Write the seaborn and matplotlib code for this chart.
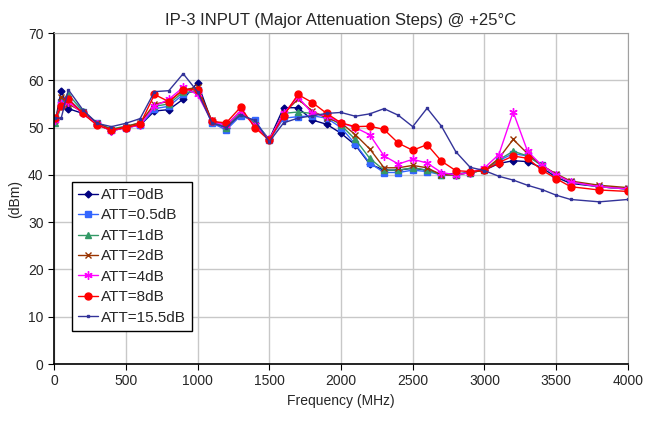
import seaborn as sns
import matplotlib.pyplot as plt
import numpy as np

sns.set_style('whitegrid')
plt.rcParams['font.family'] = ['Liberation Sans', 'DejaVu Sans']

freq = [10, 50, 100, 200, 300, 400, 500, 600, 700, 800, 900, 1000, 1100, 1200,
        1300, 1400, 1500, 1600, 1700, 1800, 1900, 2000, 2100, 2200, 2300, 2400,
        2500, 2600, 2700, 2800, 2900, 3000, 3100, 3200, 3300, 3400, 3500, 3600,
        3800, 4000]

att_0 = [51.5, 57.8, 54.0, 53.0, 50.7, 49.3, 50.0, 50.5, 53.5, 53.8, 56.0, 59.5,
         51.2, 50.0, 53.0, 51.0, 47.5, 54.2, 54.2, 51.6, 50.7, 48.8, 46.3, 42.3,
         41.0, 41.0, 41.4, 41.0, 40.2, 40.2, 40.5, 41.0, 42.4, 43.0, 42.8, 41.5,
         39.5, 38.2, 37.5, 37.0]
att_05 = [52.0, 55.5, 56.0, 53.3, 51.0, 49.5, 50.0, 50.5, 54.0, 54.5, 57.0, 58.0,
          51.0, 49.5, 52.5, 51.5, 47.3, 52.0, 52.3, 52.5, 52.0, 50.0, 46.5, 42.5,
          40.5, 40.5, 41.0, 40.7, 40.0, 40.0, 40.5, 41.0, 43.0, 44.5, 44.0, 42.0,
          40.0, 38.5, 37.5, 37.0]
att_1 = [51.0, 54.5, 57.0, 53.5, 51.0, 49.7, 50.3, 51.0, 54.5, 55.0, 57.5, 57.5,
         51.3, 50.0, 53.0, 51.0, 47.5, 53.0, 53.3, 53.0, 52.5, 50.5, 47.5, 43.5,
         41.0, 41.0, 41.5, 41.0, 40.0, 40.0, 40.5, 41.0, 43.2, 45.0, 44.0, 42.0,
         40.0, 38.5, 37.5, 37.0]
att_2 = [51.5, 56.5, 55.0, 53.3, 51.0, 49.5, 50.2, 51.0, 55.0, 55.5, 58.0, 58.5,
         51.5, 50.5, 53.5, 50.5, 47.5, 53.0, 56.0, 53.5, 52.0, 51.0, 48.5, 45.5,
         41.5, 41.5, 42.0, 41.5, 40.0, 40.0, 40.5, 41.0, 43.5, 47.5, 44.5, 42.0,
         40.2, 38.7, 37.8, 37.3]
att_4 = [51.5, 55.0, 55.5, 53.0, 50.7, 49.3, 50.0, 50.5, 54.5, 56.0, 58.5, 57.0,
         51.3, 50.5, 53.5, 50.5, 47.5, 53.0, 56.5, 53.0, 52.5, 51.0, 50.0, 48.5,
         44.0, 42.3, 43.3, 42.5, 40.5, 40.0, 40.5, 41.5, 44.3, 53.3, 45.0, 42.0,
         40.0, 38.5, 37.5, 37.0]
att_8 = [52.0, 54.5, 56.0, 53.0, 50.5, 49.5, 50.0, 50.7, 57.0, 55.5, 58.0, 58.0,
         51.3, 51.0, 54.3, 50.0, 47.3, 52.5, 57.0, 55.3, 53.0, 51.0, 50.2, 50.3,
         49.6, 46.7, 45.2, 46.4, 42.9, 40.9, 40.7, 41.0, 42.6, 44.0, 43.5, 41.0,
         39.2, 37.5, 36.8, 36.5]
att_155 = [52.0, 52.0, 58.0, 53.8, 50.9, 50.2, 50.9, 51.9, 57.6, 57.8, 61.4, 57.6,
           51.0, 50.0, 52.7, 51.5, 47.0, 51.0, 52.0, 52.5, 53.0, 53.2, 52.4, 52.9,
           54.0, 52.6, 50.2, 54.1, 50.3, 44.9, 41.6, 40.9, 39.7, 38.9, 37.8, 36.9,
           35.7, 34.8, 34.3, 34.8]

labels = ['ATT=0dB', 'ATT=0.5dB', 'ATT=1dB', 'ATT=2dB', 'ATT=4dB', 'ATT=8dB',
          'ATT=15.5dB']
series = [att_0, att_05, att_1, att_2, att_4, att_8, att_155]
colors = ['#000080', '#3366ff', '#339966', '#993300', '#ff00ff', '#ff0000',
          '#333399']
markers = ['D', 's', '^', 'x', (6, 2, 0), 'o', 's']
msizes = [3.5, 4, 4, 4.5, 6, 5, 2]

fig, ax = plt.subplots(figsize=(6.47, 4.26), dpi=100)
fig.subplots_adjust(left=0.0835, right=0.9706, top=0.9225, bottom=0.1455)

for lab, vals, c, m, ms in zip(labels, series, colors, markers, msizes):
    sns.lineplot(x=freq, y=vals, ax=ax, color=c, marker=m, markersize=ms,
                 markeredgecolor=c, markeredgewidth=1, linewidth=1, label=lab)

ax.set_xlim(0, 4000)
ax.set_ylim(0, 70)
ax.set_xticks(np.arange(0, 4001, 500))
ax.set_yticks(np.arange(0, 71, 10))
ax.grid(True, color='#c8c8c8', linewidth=1)
for s in ['top', 'right']:
    ax.spines[s].set_color('#a0a0a0')
for s in ['left', 'bottom']:
    ax.spines[s].set_color('black')
    ax.spines[s].set_linewidth(1.2)
ax.tick_params(axis='both', labelsize=10, direction='out', length=4,
               color='black', bottom=True, left=True)

ax.set_title('IP-3 INPUT (Major Attenuation Steps) @ +25°C', fontsize=12)
ax.set_xlabel('Frequency (MHz)', fontsize=10)
ax.set_ylabel('(dBm)', fontsize=10)

leg = ax.legend(loc='upper left', bbox_to_anchor=(0.031, 0.55), fontsize=11,
                frameon=True, fancybox=False, borderaxespad=0,
                handlelength=1.3, handletextpad=0.2, labelspacing=0.42,
                borderpad=0.4)
leg.get_frame().set_edgecolor('black')
leg.get_frame().set_linewidth(1)
leg.get_frame().set_alpha(1)

plt.savefig('out.png', dpi=100)
